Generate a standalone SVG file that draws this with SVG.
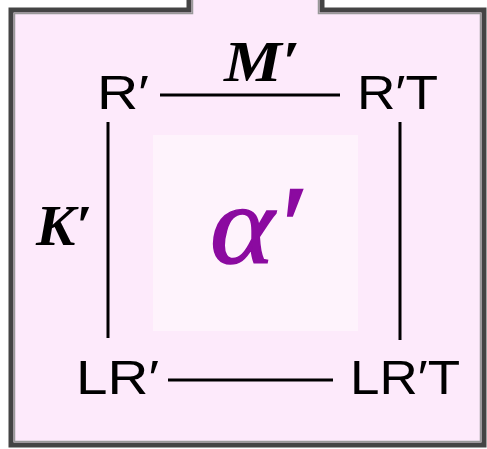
<svg xmlns="http://www.w3.org/2000/svg" width="487" height="449" viewBox="0 0 487 449">
<style>
.lbl{font-family:"Liberation Sans",Arial,sans-serif;font-size:49px;fill:#000}
.var{font-family:"Liberation Serif","Times New Roman",serif;font-size:56px;font-weight:bold;font-style:italic;fill:#000}
.edge{stroke:#000;stroke-width:3;fill:none}
</style>
<rect width="487" height="449" fill="#ffffff"/>
<g id="frame">
<path d="M11,445 L11,10 L189,10 L189,-5 L322,-5 L322,10 L484,10 L484,445 Z" fill="#fdeafb" stroke="#444" stroke-width="5"/>
<path d="M14.5,441.5 L14.5,13.5 L192.5,13.5 L192.5,-5 L318.5,-5 L318.5,13.5 L480.5,13.5 L480.5,441.5 Z" fill="#fdeafb" stroke="#999" stroke-width="1.5"/>
<rect x="153" y="135" width="205" height="196" fill="#fef3fc"/>
</g>
<g id="connectors">
<line class="edge" x1="160" y1="95" x2="340" y2="95"/>
<line class="edge" x1="168" y1="380" x2="333" y2="380"/>
<line class="edge" x1="108" y1="122" x2="108" y2="338"/>
<line class="edge" x1="400" y1="122" x2="400" y2="340"/>
</g>
<g id="R"><text class="lbl" x="97" y="109" textLength="52" lengthAdjust="spacingAndGlyphs">R′</text></g>
<g id="RT"><text class="lbl" x="357" y="109" textLength="81" lengthAdjust="spacingAndGlyphs">R′T</text></g>
<g id="LR"><text class="lbl" x="76" y="394" textLength="83" lengthAdjust="spacingAndGlyphs">LR′</text></g>
<g id="LRT"><text class="lbl" x="350" y="394" textLength="110" lengthAdjust="spacingAndGlyphs">LR′T</text></g>
<g id="M"><text class="var" x="224" y="81" textLength="76" lengthAdjust="spacingAndGlyphs">M′</text></g>
<g id="K"><text class="var" x="36" y="245" textLength="56" lengthAdjust="spacingAndGlyphs">K′</text></g>
<g id="alpha"><text x="210" y="263" font-family="'Liberation Serif','Times New Roman',serif" font-style="italic" font-size="112" fill="#8b0aa0" stroke="#8b0aa0" stroke-width="1.5" textLength="91" lengthAdjust="spacingAndGlyphs">α′</text></g>
</svg>
